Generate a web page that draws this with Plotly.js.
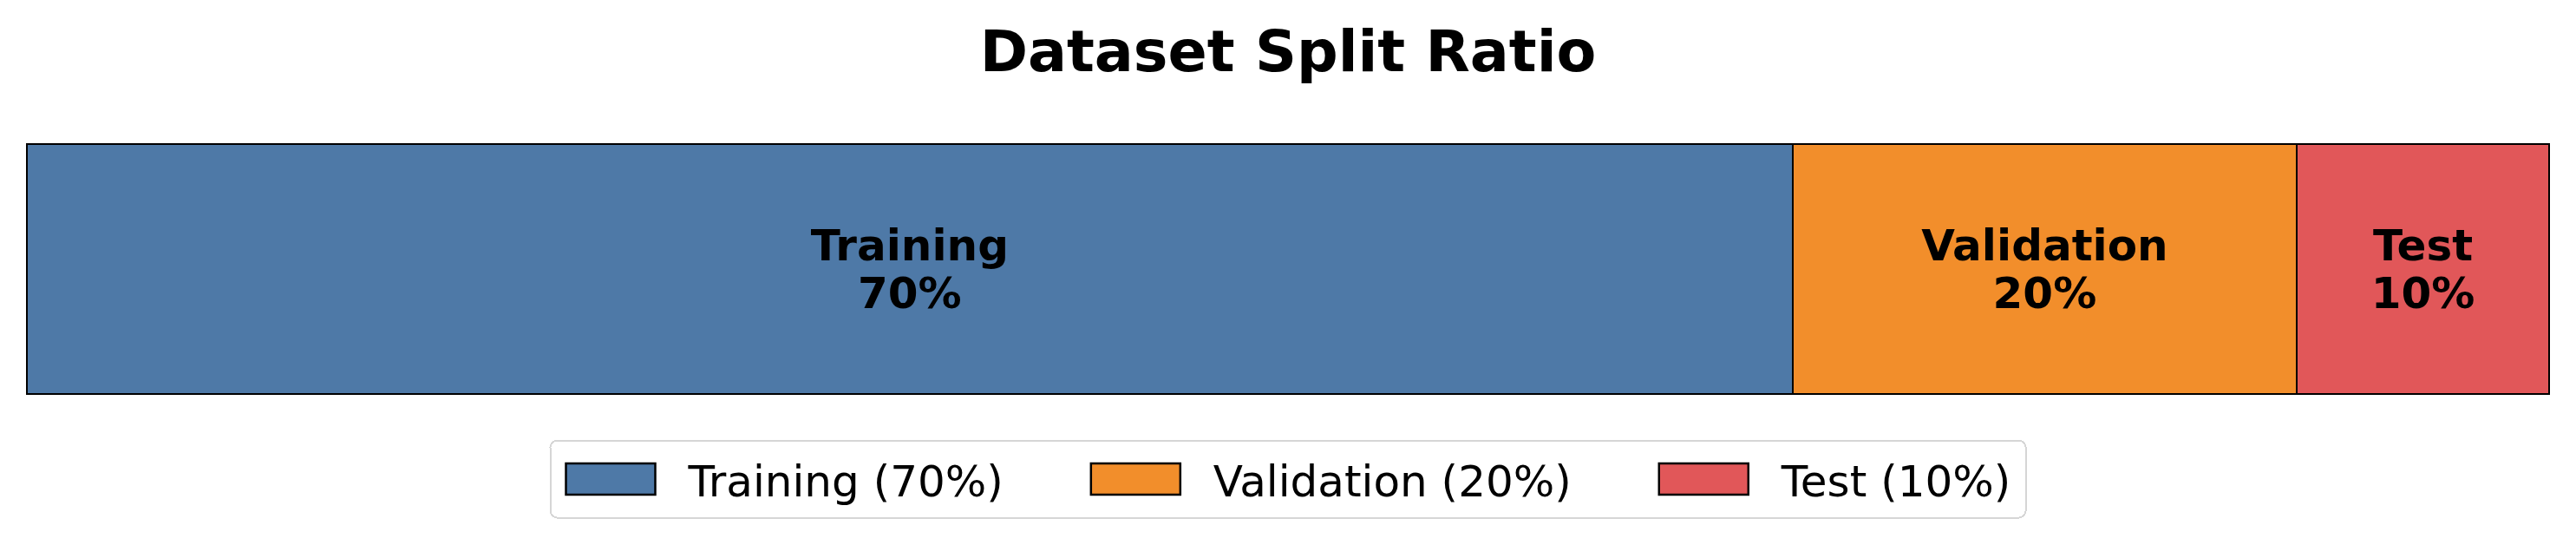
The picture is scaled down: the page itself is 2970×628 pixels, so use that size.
<!DOCTYPE html>
<html>
<head>
<meta charset="utf-8">
<script src="https://cdn.plot.ly/plotly-3.0.1.min.js"></script>
<style>html,body{margin:0;padding:0;background:#fff;}#chart{width:2970px;height:628px;}</style>
</head>
<body>
<div id="chart"></div>
<script>
// Data
const categories = ["Training", "Validation", "Test"];
const percents = [70, 20, 10];
const colors = ["#4e79a7", "#f28e2b", "#e15759"];
const rowLabel = ["Split"];

const legendFont = { family: "DejaVu Sans", size: 50, color: "#000000" };
const legendNames = categories.map((c, i) => `${c} (${percents[i]}%)`);

// measure legend label widths so entries can be spaced like the reference
const ctx = document.createElement("canvas").getContext("2d");
ctx.font = "50px 'DejaVu Sans'";
const textW = legendNames.map(n => ctx.measureText(n).width);

const ITEMW = 148;            // symbol area
const TEXTGAP = ITEMW + 10;   // plotly text offset
const COLGAP = 101;           // space after text before next symbol
const PATCH_TO_TEXT = 141;

const traces = categories.map((name, i) => ({
  type: "bar",
  orientation: "h",
  name: legendNames[i],
  y: rowLabel,
  x: [percents[i]],
  width: 1,
  marker: { color: colors[i], line: { color: "#000000", width: 2 } },
  text: [`${name}<br>${percents[i]}%`],
  textposition: "inside",
  insidetextanchor: "middle",
  textangle: 0,
  constraintext: "none",
  textfont: { family: "DejaVu Sans", size: 50, color: "#000000", weight: "bold" },
  hoverinfo: "skip",
  legendwidth: i < categories.length - 1
    ? textW[i] + COLGAP + (PATCH_TO_TEXT - TEXTGAP) - 5
    : textW[i] + 11
}));

const layout = {
  width: 2970,
  height: 628,
  margin: { l: 30, r: 30, t: 165, b: 173, pad: 0 },
  paper_bgcolor: "#ffffff",
  plot_bgcolor: "#ffffff",
  barmode: "stack",
  title: {
    text: "Dataset Split Ratio",
    font: { family: "DejaVu Sans", size: 66.7, color: "#000000", weight: "bold" },
    x: 0.5, xanchor: "center", xref: "paper",
    y: 1 - 58.5 / 628, yanchor: "middle", yref: "container"
  },
  xaxis: { range: [-0.0344, 100.0344], visible: false, fixedrange: true },
  yaxis: { range: [-0.5035, 0.5035], visible: false, fixedrange: true },
  showlegend: true,
  legend: {
    orientation: "h",
    x: 0.5, xanchor: "center",
    y: 1 - 511 / 628, yanchor: "top", yref: "container",
    font: legendFont,
    bgcolor: "#ffffff",
    bordercolor: "#d6d6d6",
    borderwidth: 2,
    itemwidth: ITEMW,
    traceorder: "normal"
  }
};

Plotly.newPlot("chart", traces, layout, { displayModeBar: false, staticPlot: true }).then(() => {
  const c = TEXTGAP / 2;
  const left = TEXTGAP - PATCH_TO_TEXT - c;
  document.querySelectorAll("#chart .legend .legendpoints path").forEach(p => {
    p.setAttribute("d", `M${left},-18H${left + 103}V18H${left}Z`);
    p.style.strokeWidth = "2.5px";
  });
  const bg = document.querySelector("#chart .legend rect.bg");
  if (bg) {
    const h = parseFloat(bg.getAttribute("height"));
    const y = parseFloat(bg.getAttribute("y") || "0");
    bg.setAttribute("height", h + 9);
    bg.setAttribute("y", y - 4.5);
    bg.setAttribute("rx", 8);
    bg.setAttribute("ry", 8);
  }
  // tighten line spacing of the two-line bar labels
  document.querySelectorAll("#chart .barlayer text.bartext").forEach(t => {
    const lines = t.querySelectorAll("tspan.line");
    if (lines.length < 2) return;
    const absolute = lines[0].hasAttribute("y");
    lines.forEach((ts, k) => {
      if (absolute) ts.setAttribute("dy", (0.1 + 1.1 * k) + "em");
      else ts.setAttribute("dy", (k === 0 ? 0.1 : 1.1) + "em");
    });
  });
});
</script>
</body>
</html>
